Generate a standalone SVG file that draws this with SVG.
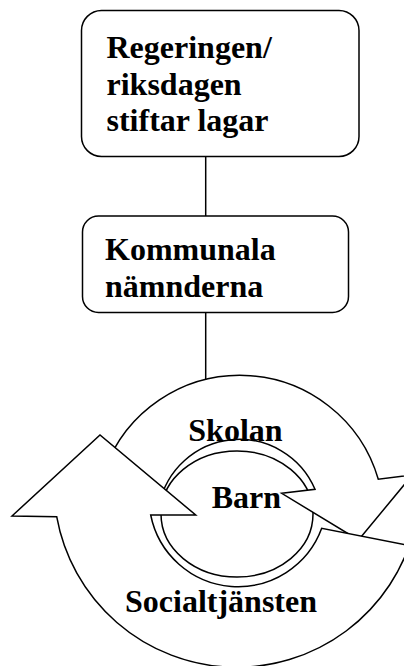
<svg xmlns="http://www.w3.org/2000/svg" width="404" height="666" viewBox="0 0 404 666">
<style>
.s{fill:#fff;stroke:#000;stroke-width:1.5;stroke-linejoin:miter}
.c{stroke:#000;stroke-width:1.5;fill:none}
.t{font-family:"Liberation Serif","Times New Roman",serif;font-weight:bold;font-size:32px;fill:#000}
</style>
<rect width="404" height="666" fill="#fff"/>
<g id="connectors">
<line class="c" x1="205.7" y1="156" x2="205.7" y2="216"/>
<line class="c" x1="205.7" y1="312.5" x2="205.7" y2="384"/>
</g>
<g id="box-regeringen">
<rect class="s" x="81.5" y="10.5" width="277.5" height="146" rx="20"/>
<text class="t" x="106.5" y="57.8">Regeringen/</text>
<text class="t" x="106.5" y="94.6">riksdagen</text>
<text class="t" x="106.5" y="131.4">stiftar lagar</text>
</g>
<g id="box-kommunala">
<rect class="s" x="82.5" y="216" width="266" height="96.5" rx="16"/>
<text class="t" x="105" y="260">Kommunala</text>
<text class="t" x="105" y="296.7">nämnderna</text>
</g>
<g id="barn-ring">
<ellipse class="s" cx="237" cy="514" rx="76" ry="63"/>
</g>
<g id="skolan-arrow">
<path class="s" d="M104.7,470 A144,144 0 0 1 378.3,479.3 L412.3,475 L358.5,540 L281.7,493.3 L315,489.3 A82,82 0 0 0 159.2,505 Z"/>
</g>
<g id="socialtjansten-arrow">
<path class="s" d="M12,516 L100,435 L195.7,515 L150.7,515 A89.1,89.1 0 0 0 321.7,528.3 L440,551.5 L440,520 L414,530 A183,183 0 0 1 56.7,516.7 Z"/>
</g>
<g id="labels">
<text class="t" x="188.3" y="441">Skolan</text>
<text class="t" x="211.7" y="507.7">Barn</text>
<text class="t" x="125" y="611.7">Socialtjänsten</text>
</g>
</svg>
